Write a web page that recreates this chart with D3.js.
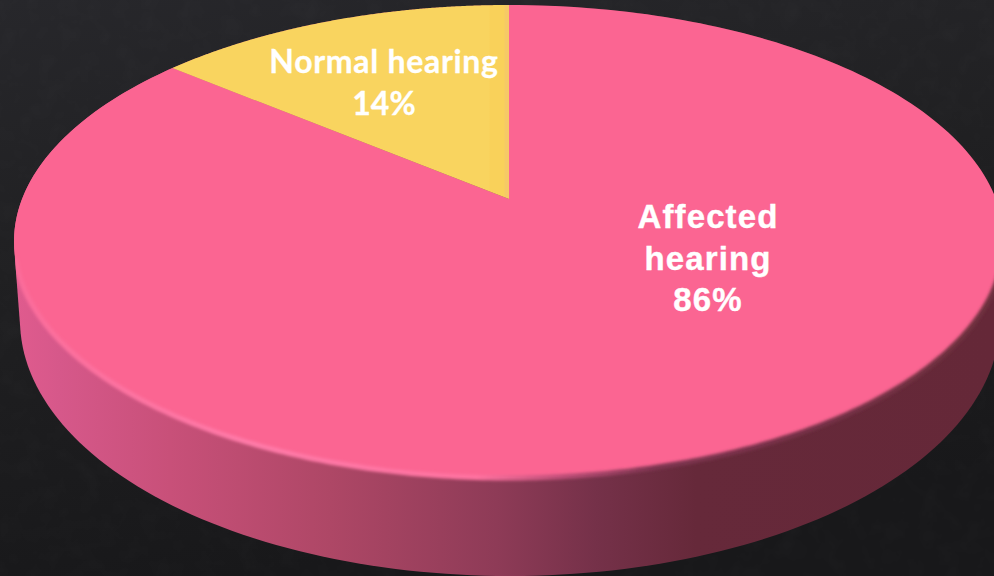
<!DOCTYPE html>
<html><head><meta charset="utf-8">
<style>html,body{margin:0;padding:0;background:#1c1c1e;overflow:hidden}svg{display:block}</style>
<script src="https://cdn.jsdelivr.net/npm/d3@7"></script></head>
<body><svg id="c" width="994" height="576"></svg>
<script>
const categories = ["Affected hearing", "Normal hearing"];
const seriesValues = [86, 14];
const percentLabels = ["86%", "14%"];
const sliceColors = ["#fb6592", "url(#gold)"];

const W = 994, H = 576;
const svg = d3.select("#c");
const defs = svg.append("defs");
const hGrad = (id, stops) => {
  const g = defs.append("linearGradient").attr("id",id).attr("gradientUnits","userSpaceOnUse")
    .attr("x1",0).attr("x2",W).attr("y1",0).attr("y2",0);
  stops.forEach(s=>g.append("stop").attr("offset",s[0]/W).attr("stop-color",s[1]));
};

// background
const bg = defs.append("linearGradient").attr("id","bg").attr("x1",0).attr("y1",0).attr("x2",0.25).attr("y2",1);
[[0,"#27272b"],[0.45,"#202022"],[1,"#18181a"]].forEach(s=>bg.append("stop").attr("offset",s[0]).attr("stop-color",s[1]));
svg.append("rect").attr("width",W).attr("height",H).attr("fill","url(#bg)");
const tex = defs.append("filter").attr("id","tex").attr("x",0).attr("y",0).attr("width","100%").attr("height","100%");
tex.append("feTurbulence").attr("type","fractalNoise").attr("baseFrequency",0.05).attr("numOctaves",3).attr("seed",4);
tex.append("feColorMatrix").attr("type","matrix").attr("values","0 0 0 0 1  0 0 0 0 1  0 0 0 0 1  0.5 0.5 0 0 -0.42");
svg.append("rect").attr("width",W).attr("height",H).attr("filter","url(#tex)").attr("opacity",0.04);

// perspective disc: back edge, pie centre and front edge on screen
const cx = 509, back = 5, apex = 199, front = 478, rx = 495;
const c = (2*apex - back - front) / (front - back);
const a = front + front*c - apex;
const k = rx * Math.sqrt(1 - c*c);
const project = t => {
  const u = Math.sin(t), v = -Math.cos(t), w = 1 + c*v;
  return [cx + k*u/w, (a*v + apex)/w];
};
// lower rim of the disc
const bottom = t => [510 + 490*Math.sin(t), 320 - 256*Math.cos(t)];

const TAU = Math.PI*2;
const sample = (t0,t1,n=240) => d3.range(n+1).map(i => t0 + (t1-t0)*i/n);
const line = d3.line();

// side wall
hGrad("wall", [[15,"#e05b8e"],[60,"#d6588a"],[170,"#c85079"],[330,"#ae4766"],[497,"#8e3b57"],[596,"#753149"],[696,"#66293a"],[994,"#652838"]]);
const hull = d3.polygonHull(sample(0,TAU).map(project).concat(sample(0,TAU).map(bottom)));
const hullPath = line(hull)+"Z";
svg.append("path").attr("d", hullPath).attr("fill","url(#wall)");
defs.append("clipPath").attr("id","solid").append("path").attr("d", hullPath);

// pie top
hGrad("gold", [[0,"#f9d45f"],[489,"#f9d45f"],[490,"#f9d15a"],[504,"#f9d15a"],[505,"#f6c966"],[W,"#f6c966"]]);
const pie = d3.pie().sort(null).value(d=>d);
const arcs = pie(seriesValues);
svg.append("g").selectAll("path").data(arcs).join("path")
  .attr("d", d => line([[cx,apex]].concat(sample(d.startAngle,d.endAngle).map(project)))+"Z")
  .attr("fill",(d,i)=>sliceColors[i]);

// bevel along the front rim
const blur = defs.append("filter").attr("id","soft").attr("x","-5%").attr("y","-5%").attr("width","110%").attr("height","110%");
blur.append("feGaussianBlur").attr("stdDeviation",1.8);
hGrad("rim", [[0,"#fb6b99"],[250,"#ff7aa8"],[477,"#ff72a0"],[556,"#c2507a"],[656,"#7e3450"],[994,"#70303f"]]);
svg.append("g").attr("clip-path","url(#solid)").append("path")
  .attr("d", line(sample(Math.PI*0.58,Math.PI*1.42).map(project)))
  .attr("fill","none").attr("stroke","url(#rim)").attr("stroke-width",5).attr("filter","url(#soft)");

// labels
const txt = svg.append("g").attr("fill","#fff").attr("stroke","#fff").attr("text-anchor","middle");
const normal = txt.append("text").attr("font-family","Lato, 'Open Sans', sans-serif").attr("font-weight",700).attr("font-size",32).attr("stroke-width",0.3);
normal.append("tspan").attr("x",384).attr("y",73).attr("letter-spacing",0.7).text(categories[1]);
normal.append("tspan").attr("x",384).attr("y",115).text(percentLabels[1]);
const affected = txt.append("text").attr("font-family","'Liberation Sans', Arial, sans-serif").attr("font-weight",700).attr("font-size",33).attr("letter-spacing",1.1).attr("stroke-width",0.4);
const parts = categories[0].split(" ");
[[parts[0],228],[parts[1],270],[percentLabels[0],311]].forEach(p=>
  affected.append("tspan").attr("x",708).attr("y",p[1]).text(p[0]));
</script></body></html>
